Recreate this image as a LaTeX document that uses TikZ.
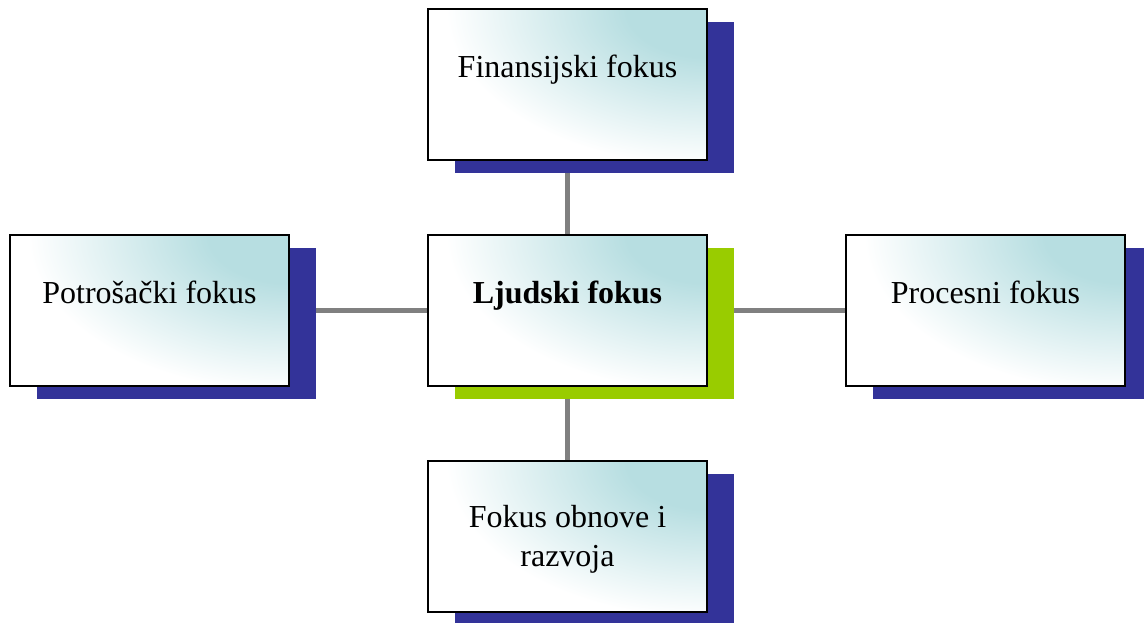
\documentclass[tikz,border=0pt]{standalone}
\usepackage{fontspec}
\setmainfont{Liberation Serif}
\usetikzlibrary{shadows,backgrounds,calc}
\definecolor{tealglow}{RGB}{183,222,225}
\definecolor{shadowblue}{RGB}{51,51,153}
\definecolor{shadowgreen}{RGB}{153,204,0}
\definecolor{linkgray}{RGB}{128,128,128}
\pgfdeclareradialshading{glow}{\pgfpoint{0bp}{0bp}}{color(0bp)=(tealglow); color(80bp)=(tealglow); color(260bp)=(white); color(400bp)=(white)}
\tikzset{
  focusbox/.style={rectangle, draw=black, line width=1.6pt, inner sep=0pt,
    minimum width=279pt, minimum height=151pt, fill=white,
    path picture={%
      \pgftransformshift{\pgfpointanchor{path picture bounding box}{north east}}%
      \pgftransformyscale{0.6}%
      \pgflowlevelsynccm
      \pgfuseshading{glow}},
    general shadow={shadow xshift=27pt, shadow yshift=-13pt, fill=shadowblue}},
  keybox/.style={focusbox, general shadow={shadow xshift=27pt, shadow yshift=-13pt, fill=shadowgreen}},
  label/.style={font=\fontsize{32}{39}\selectfont, inner sep=0pt, align=center, anchor=base},
  link/.style={draw=linkgray, line width=5pt}
}
\begin{document}
\begin{tikzpicture}[x=1pt,y=-1pt]
\useasboundingbox (0,0) rectangle (1144,622);
\clip (0,0) rectangle (1144,622);
\node[focusbox] (fin) at (567.5,84.5) {};
\node[keybox] (ljud) at (567.5,310.5) {};
\node[focusbox] (pot) at (149.5,310.5) {};
\node[focusbox] (pro) at (985.5,310.5) {};
\node[focusbox] (obn) at (567.5,536.5) {};
\node[label] (tfin) at ($(fin.north)+(0,69)$) {Finansijski fokus};
\node[label] (tljud) at ($(ljud.north)+(0,69)$) {\bfseries Ljudski fokus};
\node[label] (tpot) at ($(pot.north)+(0,69)$) {Potrošački fokus};
\node[label] (tpro) at ($(pro.north)+(0,69)$) {Procesni fokus};
\node[label] (tobn) at ($(obn.north)+(0,106)$) {Fokus obnove i\\razvoja};
\begin{scope}[on background layer]
\draw[link] (fin.south) -- (ljud.north);
\draw[link] (ljud.south) -- (obn.north);
\draw[link] (pot.east) -- (ljud.west);
\draw[link] (ljud.east) -- (pro.west);
\end{scope}
\end{tikzpicture}
\end{document}
